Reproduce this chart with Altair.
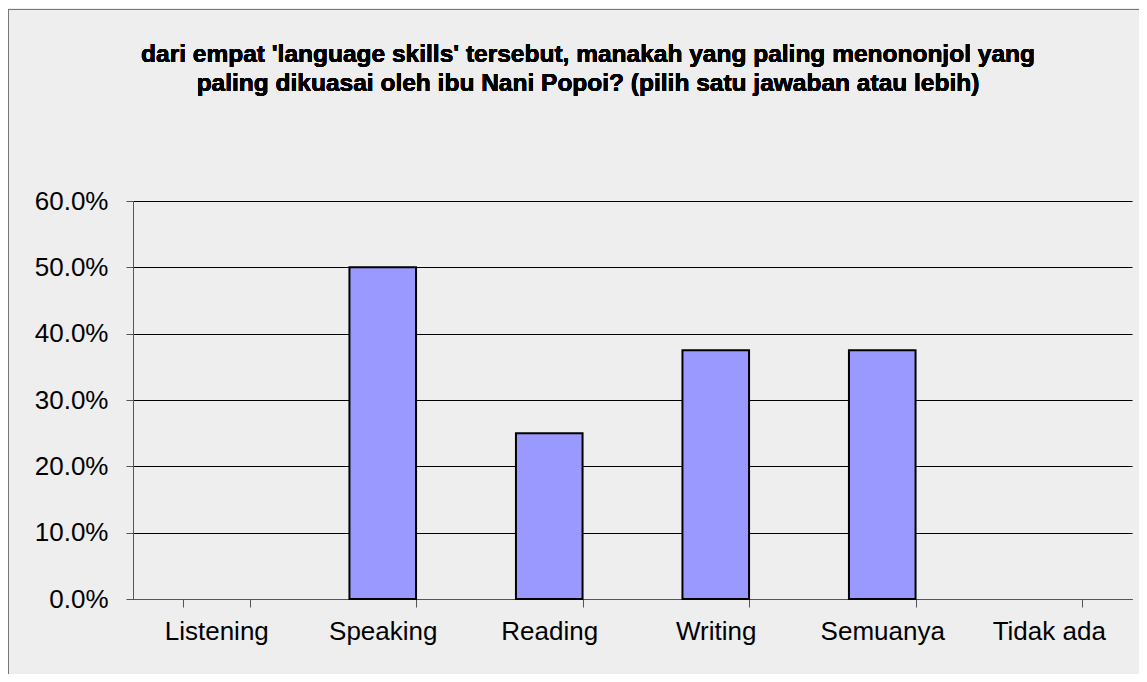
import altair as alt
import pandas as pd

categories = ["Listening", "Speaking", "Reading", "Writing", "Semuanya", "Tidak ada"]
values = [0.0, 0.50, 0.25, 0.375, 0.375, 0.0]
y_ticks = [0.0, 0.1, 0.2, 0.3, 0.4, 0.5, 0.6]
title_lines = [
    "dari empat 'language skills' tersebut, manakah yang paling menononjol yang",
    "paling dikuasai oleh ibu Nani Popoi? (pilih satu jawaban atau lebih)",
]

df = pd.DataFrame({"cat": categories, "val": values})

base = alt.Chart(df)

bars = base.mark_bar(color="#9999FF", stroke="#000000", strokeWidth=2).encode(
    x=alt.X(
        "cat:N",
        sort=categories,
        title=None,
        scale=alt.Scale(domain=categories, paddingInner=0.6, paddingOuter=0.3),
        axis=alt.Axis(
            labelAngle=0,
            labelFont="Liberation Sans",
            labelFontSize=26,
            labelColor="#000000",
            labelPadding=11,
            tickBand="extent",
            tickSize=8,
            tickColor="#555555",
            domainColor="#555555",
            grid=False,
        ),
    ),
    y=alt.Y(
        "val:Q",
        title=None,
        scale=alt.Scale(domain=[0, 0.6], nice=False),
        axis=alt.Axis(
            values=y_ticks,
            format=".1%",
            labelFont="Liberation Sans",
            labelFontSize=26,
            labelColor="#000000",
            labelPadding=18,
            tickSize=7,
            tickColor="#555555",
            domainColor="#555555",
            grid=True,
            gridColor="#000000",
            gridWidth=1,
        ),
    ),
).transform_filter(alt.datum.val > 0)

title_text = base.mark_text(
    font="Liberation Sans",
    fontSize=24.5,
    fontWeight="bold",
    color="#000000",
    align="center",
    baseline="alphabetic",
    lineHeight=29.5,
).encode(
    x=alt.value(455),
    y=alt.value(-139.5),
    text=alt.value(title_lines),
)

frame = base.mark_rect(fill=None, stroke="#777777", strokeWidth=1).encode(
    x=alt.value(-124.5), y=alt.value(-191.5), x2=alt.value(1200), y2=alt.value(700)
)

chart = (
    alt.layer(bars, title_text, frame)
    .properties(
        width=999,
        height=398,
        padding={"left": 125, "top": 193, "right": 7, "bottom": 75},
        autosize=alt.AutoSizeParams(type="none"),
        background="#EEEEEE",
    )
    .configure_view(stroke=None)
)

chart.save("out.html", embed_options={"renderer": "svg", "actions": False})
